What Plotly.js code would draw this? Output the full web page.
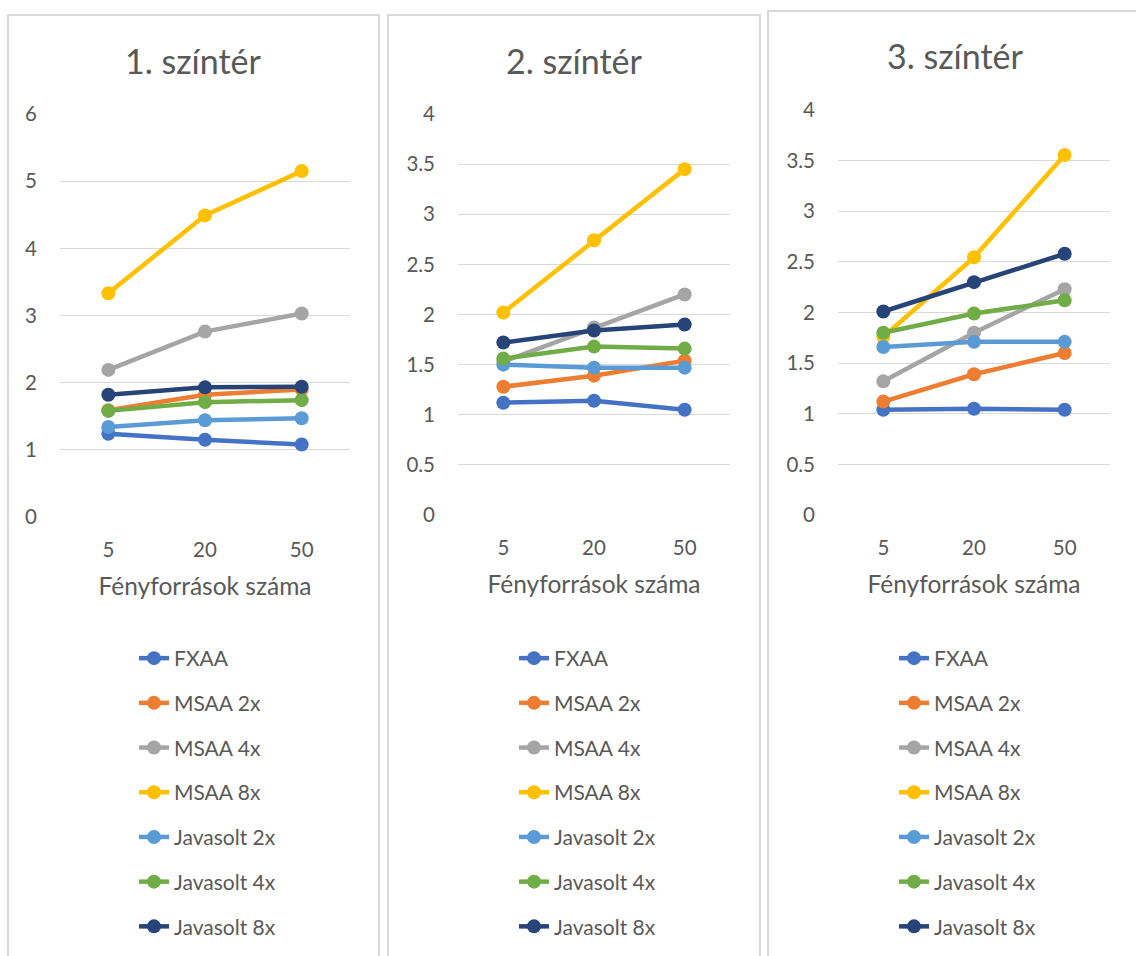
<!DOCTYPE html>
<html>
<head>
<meta charset="utf-8">
<script src="https://cdn.plot.ly/plotly-3.0.1.min.js"></script>
<style>html,body{margin:0;padding:0;background:#fff;}#chart{width:1136px;height:956px;}</style>
</head>
<body>
<div id="chart"></div>
<script>
// ---- data ----
const categories = ['5', '20', '50'];
const seriesNames = ['FXAA', 'MSAA 2x', 'MSAA 4x', 'MSAA 8x', 'Javasolt 2x', 'Javasolt 4x', 'Javasolt 8x'];
const panelTitles = ['1. színtér', '2. színtér', '3. színtér'];
const xAxisTitle = 'Fényforrások száma';

// scene 1
const s1_fxaa  = [1.24, 1.15, 1.08];
const s1_msaa2 = [1.59, 1.82, 1.90];
const s1_msaa4 = [2.19, 2.76, 3.03];
const s1_msaa8 = [3.33, 4.49, 5.15];
const s1_jav2  = [1.34, 1.44, 1.47];
const s1_jav4  = [1.58, 1.71, 1.74];
const s1_jav8  = [1.82, 1.93, 1.94];
// scene 2
const s2_fxaa  = [1.12, 1.14, 1.05];
const s2_msaa2 = [1.28, 1.39, 1.54];
const s2_msaa4 = [1.53, 1.87, 2.20];
const s2_msaa8 = [2.02, 2.74, 3.45];
const s2_jav2  = [1.50, 1.47, 1.47];
const s2_jav4  = [1.56, 1.68, 1.66];
const s2_jav8  = [1.72, 1.84, 1.90];
// scene 3
const s3_fxaa  = [1.04, 1.05, 1.04];
const s3_msaa2 = [1.12, 1.39, 1.60];
const s3_msaa4 = [1.32, 1.80, 2.23];
const s3_msaa8 = [1.76, 2.545, 3.555];
const s3_jav2  = [1.66, 1.71, 1.71];
const s3_jav4  = [1.80, 1.99, 2.12];
const s3_jav8  = [2.01, 2.30, 2.58];

const yMax = [6, 4, 4];
const yStep = [1, 0.5, 0.5];

// ---- styling ----
const colors = ['#4472C4', '#ED7D31', '#A5A5A5', '#FFC000', '#5B9BD5', '#70AD47', '#264478'];
const FONT = 'Lato, "Open Sans", sans-serif';
const TXT = '#595959';
const W = 1136, H = 956;
const px = v => v / W;
const py = v => 1 - v / H;

const panels = [
  [s1_fxaa, s1_msaa2, s1_msaa4, s1_msaa8, s1_jav2, s1_jav4, s1_jav8],
  [s2_fxaa, s2_msaa2, s2_msaa4, s2_msaa8, s2_jav2, s2_jav4, s2_jav8],
  [s3_fxaa, s3_msaa2, s3_msaa4, s3_msaa8, s3_jav2, s3_jav4, s3_jav8]
];

// layout geometry (pixels)
const plotX = [[60, 350], [458, 730], [838, 1110]];
const plotY = [[114, 517], [114, 515], [110, 515]];
const titlePos = [[193, 60], [574, 60], [955, 55]];
const borders = [[8, 15, 379, 990], [388, 15, 760, 990], [768, 11, 1160, 990]];
const legendX = [134, 514, 894];

const traces = [];
panels.forEach((series, p) => {
  const sfx = p === 0 ? '' : String(p + 1);
  series.forEach((vals, i) => {
    traces.push({
      type: 'scatter', mode: 'lines+markers',
      x: categories, y: vals, name: seriesNames[i],
      xaxis: 'x' + sfx, yaxis: 'y' + sfx,
      legend: 'legend' + sfx,
      legendgroup: 'g' + p + '_' + i,
      line: {color: colors[i], width: 4.5},
      marker: {color: colors[i], size: 14},
      hoverinfo: 'x+y+name'
    });
  });
});

const layout = {
  width: W, height: H,
  margin: {l: 0, r: 0, t: 0, b: 0},
  paper_bgcolor: '#ffffff', plot_bgcolor: '#ffffff',
  font: {family: FONT, color: TXT, size: 20},
  showlegend: true,
  shapes: [], annotations: []
};

for (let p = 0; p < 3; p++) {
  const sfx = p === 0 ? '' : String(p + 1);
  layout['xaxis' + sfx] = {
    domain: [px(plotX[p][0]), px(plotX[p][1])],
    anchor: 'y' + sfx,
    type: 'category', range: [-0.5, 2.5],
    showgrid: false, zeroline: false, showline: false, ticks: '',
    ticklabelstandoff: 18,
    tickfont: {family: FONT, size: 20.5, color: TXT},
    title: {text: xAxisTitle, font: {family: FONT, size: 24.5, color: TXT}, standoff: 18},
    fixedrange: true
  };
  layout['yaxis' + sfx] = {
    domain: [py(plotY[p][1]), py(plotY[p][0])],
    anchor: 'x' + sfx,
    range: [0, yMax[p]], dtick: yStep[p], tick0: 0,
    showgrid: true, gridcolor: '#D9D9D9', gridwidth: 1.3,
    zeroline: false, showline: false, ticks: '',
    ticklabelstandoff: 22,
    tickfont: {family: FONT, size: 20.5, color: TXT},
    fixedrange: true
  };
  layout['legend' + sfx] = {
    x: px(legendX[p]), xanchor: 'left',
    y: py(638), yanchor: 'top',
    orientation: 'v',
    font: {family: FONT, size: 21, color: TXT},
    bgcolor: 'rgba(0,0,0,0)',
    tracegroupgap: 14.4,
    itemclick: false, itemdoubleclick: false
  };
  layout.annotations.push({
    xref: 'paper', yref: 'paper',
    x: px(titlePos[p][0]), y: py(titlePos[p][1]),
    xanchor: 'center', yanchor: 'middle',
    text: panelTitles[p], showarrow: false,
    font: {family: FONT, size: 34, color: TXT}
  });
  const b = borders[p];
  layout.shapes.push({
    type: 'rect', xref: 'paper', yref: 'paper',
    x0: px(b[0]), x1: px(b[2]), y0: py(b[3]), y1: py(b[1]),
    line: {color: '#D9D9D9', width: 2}, fillcolor: 'rgba(0,0,0,0)', layer: 'below'
  });
}

Plotly.newPlot('chart', traces, layout, {displayModeBar: false, responsive: false});
</script>
</body>
</html>
